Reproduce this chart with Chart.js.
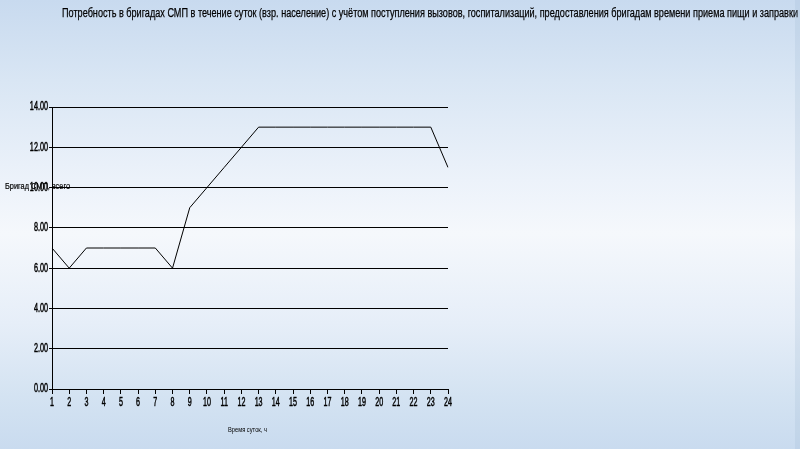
<!DOCTYPE html>
<html>
<head>
<meta charset="utf-8">
<script src="https://cdn.jsdelivr.net/npm/chart.js@4/dist/chart.umd.min.js"></script>
<style>
html,body{margin:0;padding:0;width:800px;height:449px;overflow:hidden;}
body{background:linear-gradient(to bottom,#c8daef 0%,#d9e6f4 18%,#ecf2fa 40%,#f5f8fc 52%,#e6eef8 72%,#d4e3f2 88%,#c9dbef 100%);}
#wrap{position:absolute;left:0;top:0;width:800px;height:449px;}
#edge{position:absolute;right:0;top:0;width:5px;height:449px;background:rgba(150,175,205,0.18);}
</style>
</head>
<body>
<div id="wrap"><canvas id="c" width="800" height="449"></canvas><div id="edge"></div></div>
<script>
const titleText = "Потребность в бригадах СМП в течение суток (взр. население) с учётом поступления вызовов, госпитализаций, предоставления бригадам времени приема пищи и заправки";
const yTitle = "Бригад СМП, всего";
const xTitle = "Время суток, ч";
const hours = ["1","2","3","4","5","6","7","8","9","10","11","12","13","14","15","16","17","18","19","20","21","22","23","24"];
const brigades = [7,6,7,7,7,7,7,6,9,10,11,12,13,13,13,13,13,13,13,13,13,13,13,11];

const fam = "'Liberation Sans', Arial, sans-serif";

function drawCondensed(ctx, text, x, y, size, sx, align, targetWidth, thick) {
  ctx.save();
  ctx.font = size + "px " + fam;
  if (targetWidth) sx = targetWidth / ctx.measureText(text).width;
  ctx.translate(x, y);
  ctx.scale(sx, 1);
  ctx.textAlign = align;
  ctx.textBaseline = 'middle';
  ctx.fillStyle = '#000';
  ctx.fillText(text, 0, 0);
  if (thick) {
    ctx.strokeStyle = '#000';
    ctx.lineWidth = thick;
    ctx.strokeText(text, 0, 0);
  }
  ctx.restore();
}

const textPlugin = {
  id: 'texts',
  afterDraw(chart) {
    const ctx = chart.ctx;
    const xs = chart.scales.x, ys = chart.scales.y;
    drawCondensed(ctx, titleText, 62, 14, 12.5, 1, 'left', 736, 0.25);
    ys.ticks.forEach(t => {
      const py = ys.getPixelForValue(t.value);
      drawCondensed(ctx, Number(t.value).toFixed(2), 48, py, 12.5, 0.58, 'right', 0, 0.5);
    });
    xs.ticks.forEach((t, i) => {
      const px = xs.getPixelForTick(i);
      drawCondensed(ctx, String(xs.getLabelForValue(t.value)), px, 402, 13, 0.55, 'center', 0, 0.5);
    });
    drawCondensed(ctx, yTitle, 5, ys.getPixelForValue(10) - 1, 9.5, 1, 'left', 65, 0.2);
    drawCondensed(ctx, xTitle, 228, 430, 7, 1, 'left', 39);
  }
};

new Chart(document.getElementById('c'), {
  type: 'line',
  data: {
    labels: hours,
    datasets: [{
      data: brigades,
      borderColor: '#000',
      borderWidth: 1,
      pointRadius: 0,
      tension: 0,
      fill: false
    }]
  },
  options: {
    responsive: false,
    animation: false,
    events: [],
    layout: { padding: { top: 107, right: 352, left: 0, bottom: 0 } },
    plugins: { legend: { display: false }, title: { display: false }, tooltip: { enabled: false } },
    scales: {
      x: {
        offset: false,
        grid: { drawOnChartArea: false, color: '#000', tickLength: 5, tickColor: '#000' },
        border: { color: '#000', width: 1 },
        ticks: { display: true, color: 'rgba(0,0,0,0)', font: { size: 11 }, maxRotation: 0, autoSkip: false },
        afterFit(s) { s.height = 60; }
      },
      y: {
        min: 0, max: 14,
        grid: { color: '#000', lineWidth: 1, tickLength: 3, tickColor: '#000' },
        border: { color: '#000', width: 1 },
        ticks: { stepSize: 2, color: 'rgba(0,0,0,0)', font: { size: 10 },
          callback: v => Number(v).toFixed(2) },
        afterFit(s) { s.width = 52; }
      }
    }
  },
  plugins: [textPlugin]
});
</script>
</body>
</html>
